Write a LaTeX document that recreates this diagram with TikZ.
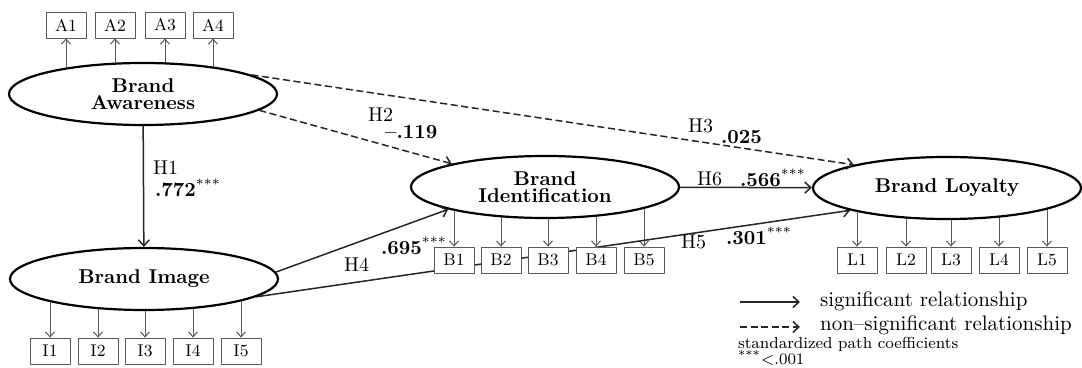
\documentclass[tikz,border=0pt]{standalone}
\usetikzlibrary{shapes.geometric,backgrounds,arrows.meta}
\newcommand\sigstars{\textsuperscript{\normalfont\scriptsize***}}
\begin{document}
\begin{tikzpicture}[x=0.5pt,y=-0.5pt,line join=round,
 latent/.style={ellipse,draw,fill=white,line width=1.1pt,minimum width=134pt,minimum height=31pt,inner sep=0pt,align=center,font=\fontsize{10}{8.5}\selectfont\bfseries},
 indicator/.style={draw=black!65,fill=white,minimum width=20pt,minimum height=13pt,inner sep=0pt,font=\fontsize{8.5}{9}\selectfont},
 loading/.style={-{Straight Barb[length=2.5pt,width=4.5pt]},black!65,line width=0.5pt},
 rel/.style={-{Straight Barb[length=3pt,width=5.5pt]},line width=0.75pt,black!85},
 nonsig/.style={rel,dash pattern=on 3.5pt off 1.8pt},
 hyp/.style={anchor=west,font=\fontsize{10}{10}\selectfont},
 coef/.style={anchor=west,font=\fontsize{10}{10}\selectfont\bfseries}]
 \useasboundingbox (0,0) rectangle (1082,368);
 \node[latent] (aware) at (143,94) {Brand\\Awareness};
 \node[latent] (image) at (144,279) {Brand Image};
 \node[latent] (ident) at (545,187) {Brand\\Identification};
 \node[latent] (loyal) at (947,188) {Brand Loyalty};
 \foreach \n/\x in {1/66,2/115,3/165,4/213} \node[indicator] (a\n) at (\x,25) {A\n};
 \foreach \n/\x in {1/50,2/98,3/145,4/193,5/241} \node[indicator] (i\n) at (\x,351) {I\n};
 \foreach \n/\x in {1/454,2/501,3/548,4/596,5/644} \node[indicator] (b\n) at (\x,260) {B\n};
 \foreach \n/\x in {1/857,2/906,3/951,4/999,5/1047} \node[indicator] (l\n) at (\x,260) {L\n};
 \begin{scope}[on background layer]
 \foreach \n in {1,...,4} \draw[loading] (aware.center -| a\n) -- (a\n);
 \foreach \n in {1,...,5} {
  \draw[loading] (image.center -| i\n) -- (i\n);
  \draw[loading] (ident.center -| b\n) -- (b\n);
  \draw[loading] (loyal.center -| l\n) -- (l\n);
 }
 \draw[rel] (image.-9) -- (loyal.193);
 \end{scope}
 \draw[rel] (aware) -- (image);
 \draw[nonsig] (aware.-8) -- (ident.166);
 \draw[nonsig] (aware.10) -- (loyal.166);
 \draw[rel] (image.3) -- (ident.193);
 \draw[rel] (ident) -- (loyal);
 \node[hyp] (h1) at (146,168) {H1};
 \node[coef] (c1) at (148,188) {.772\sigstars};
 \node[hyp] (h2) at (361,115) {H2};
 \node[coef] (c2) at (378,132) {\textendash.119};
 \node[hyp] (h3) at (681,126) {H3};
 \node[coef] (c3) at (714,137) {.025};
 \node[hyp] (h4) at (337,265) {H4};
 \node[coef] (c4) at (374,246) {.695\sigstars};
 \node[hyp] (h5) at (674,242) {H5};
 \node[coef] (c5) at (719,236) {.301\sigstars};
 \node[hyp] (h6) at (690,179) {H6};
 \node[coef] (c6) at (733,178) {.566\sigstars};
 \coordinate (s0) at (740,302); \coordinate (s1) at (800,302);
 \coordinate (n0) at (740,327); \coordinate (n1) at (800,327);
 \draw[rel] (s0) -- (s1);
 \draw[nonsig] (n0) -- (n1);
 \node[anchor=west,font=\fontsize{10.5}{11}\selectfont] (sig) at (813,301) {significant relationship};
 \node[anchor=west,font=\fontsize{10.5}{11}\selectfont] (nsig) at (813,325) {non--significant relationship};
 \node[anchor=west,font=\fontsize{8}{8}\selectfont] (std) at (731,344) {standardized path coefficients};
 \node[anchor=west,font=\fontsize{8}{8}\selectfont] (pval) at (731,358) {\textsuperscript{***}\textless.001};
\end{tikzpicture}
\end{document}
